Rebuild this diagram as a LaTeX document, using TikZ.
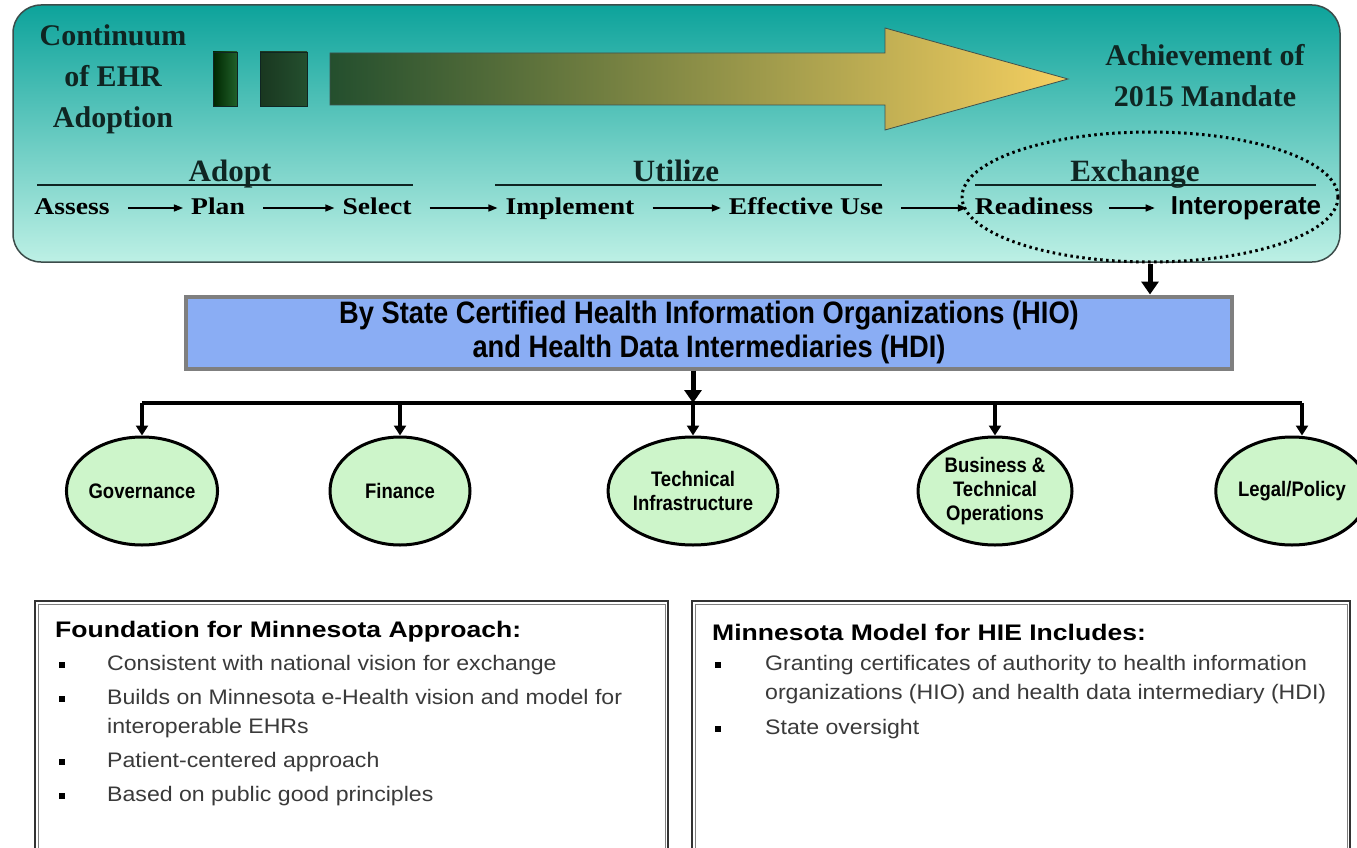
\documentclass[tikz,border=0pt]{standalone}
\usepackage{fontspec}
\setmainfont{Liberation Serif}
\newfontfamily\rowfont[FakeStretch=1.15]{Liberation Serif}
\newfontfamily\bluefont[FakeStretch=0.88]{Liberation Sans}
\newfontfamily\circfont[FakeStretch=0.88]{Liberation Sans}
\newfontfamily\headfont[FakeStretch=1.18]{Liberation Sans}
\newfontfamily\itemfont[FakeStretch=1.1]{Liberation Sans}
\newfontfamily\plainsans{Liberation Sans}
\usetikzlibrary{arrows.meta,shapes.geometric,shadows}
\definecolor{tealtop}{HTML}{0DA39B}
\definecolor{tealbot}{HTML}{BDF0E5}
\definecolor{panelborder}{HTML}{3C4C4A}
\definecolor{darktxt}{HTML}{0F2522}
\definecolor{hioblue}{HTML}{8AADF4}
\definecolor{hioborder}{HTML}{7F7F7F}
\definecolor{circgreen}{HTML}{CDF5CA}
\definecolor{itemgray}{HTML}{3A3A3A}
\definecolor{gdark}{HTML}{244F2E}
\definecolor{golive}{HTML}{A5A248}
\definecolor{gyellow}{HTML}{F5CF60}
\begin{document}
\begin{tikzpicture}[x=1pt,y=-1pt,
  panel/.style={shape=rectangle, rounded corners=28pt, top color=tealtop, bottom color=tealbot,
     draw=panelborder, line width=1.5pt, minimum width=1327pt, minimum height=257pt, inner sep=0pt},
  bigtxt/.style={text=darktxt, font=\fontsize{30}{41}\selectfont\bfseries, align=center, inner sep=0pt},
  grptxt/.style={text=darktxt, font=\fontsize{31}{36}\selectfont\bfseries, inner sep=0pt},
  grpline/.style={draw=darktxt, line width=1.3pt},
  rowtxt/.style={text=black, font=\rowfont\fontsize{24}{28}\selectfont\bfseries, inner sep=2pt,
     text height=17pt, text depth=5pt},
  rowarr/.style={draw=black, line width=1.4pt, -{Triangle[length=9pt,width=7pt]}, shorten <=16pt, shorten >=6pt},
  exell/.style={shape=ellipse, draw=black, line width=3pt, dash pattern=on 2.5pt off 3.5pt,
     minimum width=376pt, minimum height=130pt, inner sep=0pt},
  hiobox/.style={shape=rectangle, fill=hioblue, draw=hioborder, line width=4pt,
     minimum width=1046pt, minimum height=72pt, align=center,
     font=\bluefont\fontsize{31}{34}\selectfont\bfseries,
     drop shadow={shadow xshift=2pt, shadow yshift=-2pt, opacity=0.35}},
  bigarr/.style={draw=black, line width=5pt, -{Triangle[length=13pt,width=17pt]}},
  brline/.style={draw=black, line width=3.2pt},
  brarr/.style={draw=black, line width=3.2pt, -{Triangle[length=10pt,width=12pt]}},
  circ/.style={shape=ellipse, fill=circgreen, draw=black, line width=3pt,
     minimum width=140pt, minimum height=108pt, inner sep=0pt, align=center,
     font=\circfont\fontsize{21}{24}\selectfont\bfseries},
  infobox/.style={shape=rectangle, draw=black!80, line width=2pt, fill=white, inner sep=0pt},
  headtxt/.style={font=\headfont\fontsize{22.5}{26}\selectfont\bfseries, anchor=west, inner sep=0pt},
  itemtxt/.style={font=\itemfont\fontsize{21}{29}\selectfont, text=itemgray, anchor=west, align=left, inner sep=0pt},
  bullet/.style={shape=rectangle, fill=black, minimum width=5.5pt, minimum height=6.5pt, inner sep=0pt}
]
\useasboundingbox (0,0) rectangle (1357,848);
\fill[white] (0,0) rectangle (1357,848);

% top panel
\node[panel] (panel) at (676.5,133.5) {};

% progress bars and arrow
\shade[left color=black!85!green, right color=gdark!90!green, draw=darktxt, line width=0.8pt] (213,52) rectangle (237,106);
\shade[left color=gdark!70!black, right color=gdark, draw=darktxt, line width=0.8pt] (260,52) rectangle (307,106);
\shade[left color=gdark, middle color=golive, right color=gyellow, draw=darktxt!80, line width=0.8pt]
  (330,53) -- (885,53) -- (885,28) -- (1068,79) -- (885,130) -- (885,105) -- (330,105) -- cycle;

\node[bigtxt] (cont) at (113,79) {Continuum\\of EHR\\Adoption};
\node[bigtxt] (ach) at (1205,76) {Achievement of\\2015 Mandate};

% group headings
\node[grptxt, anchor=base] (adopt) at (230,181) {Adopt};
\node[grptxt, anchor=base] (utilize) at (676,181) {Utilize};
\node[grptxt, anchor=base] (exchange) at (1135,181) {Exchange};
\draw[grpline] (37,185) -- (413,185);
\draw[grpline] (495,185) -- (882,185);
\draw[grpline] (975,185) -- (1316,185);

% row
\node[rowtxt] (assess) at (72,208) {Assess};
\node[rowtxt] (plan) at (218,208) {Plan};
\node[rowtxt] (select) at (377,208) {Select};
\node[rowtxt] (implement) at (570,208) {Implement};
\node[rowtxt] (effective) at (806,208) {Effective Use};
\node[rowtxt] (readiness) at (1034,208) {Readiness};
\node[inner sep=2pt, text height=17pt, text depth=5pt, font=\plainsans\fontsize{26}{30}\selectfont\bfseries] (interop) at (1246,208) {Interoperate};
\draw[rowarr] (assess) -- (plan);
\draw[rowarr] (plan) -- (select);
\draw[rowarr] (select) -- (implement);
\draw[rowarr] (implement) -- (effective);
\draw[rowarr] (effective) -- (readiness);
\draw[rowarr, shorten <=14pt, shorten >=14pt] (readiness) -- (interop);

% exchange ellipse
\node[exell] (exell) at (1150,197) {};

% HIO box
\node[hiobox] (hio) at (709,332.5) {By State Certified Health Information Organizations (HIO)\\and Health Data Intermediaries (HDI)};

\draw[bigarr] (exell.south) -- (exell.south |- hio.north);

% circles
\node[circ] (gov) at (142,491) {Governance};
\node[circ] (fin) at (400,491) {Finance};
\node[circ] (tech) at (693,491) {Technical\\Infrastructure};
\node[circ, minimum width=154pt] (busi) at (995,491) {Business \&\\Technical\\Operations};
\node[circ] (legal) at (1292,491) {Legal/Policy};

\coordinate (bus) at (693,403);
\coordinate (legtop) at (1302,403);
\draw[bigarr] (hio.south -| tech.north) -- (bus);
\draw[brline] (gov.north |- bus) -- (legtop);
\draw[brarr] (gov.north |- bus) -- (gov.north);
\draw[brarr] (fin.north |- bus) -- (fin.north);
\draw[brarr] (bus) -- (tech.north);
\draw[brarr] (busi.north |- bus) -- (busi.north);
\draw[brarr] (legtop) -- (legtop |- legal.north);

% bottom boxes
\node[infobox, minimum width=633pt, minimum height=252pt] (lbox) at (351.5,727) {};
\draw[draw=black!50, line width=0.8pt] ([shift={(4,4)}]lbox.north west) rectangle ([shift={(-4,-4)}]lbox.south east);
\node[infobox, minimum width=658pt, minimum height=252pt] (rbox) at (1021,727) {};
\draw[draw=black!50, line width=0.8pt] ([shift={(4,4)}]rbox.north west) rectangle ([shift={(-4,-4)}]rbox.south east);

\node[headtxt] (lhead) at (55,632) {Foundation for Minnesota Approach:};
\node[bullet] (lb1) at (62,665) {};
\node[itemtxt] (li1) at (107,665) {Consistent with national vision for exchange};
\node[bullet] (lb2) at (62,699) {};
\node[itemtxt] (li2) at (107,714) {Builds on Minnesota e-Health vision and model for\\interoperable EHRs};
\node[bullet] (lb3) at (62,762) {};
\node[itemtxt] (li3) at (107,762) {Patient-centered approach};
\node[bullet] (lb4) at (62,796) {};
\node[itemtxt] (li4) at (107,796) {Based on public good principles};

\node[headtxt] (rhead) at (712,632) {Minnesota Model for HIE Includes:};
\node[bullet] (rb1) at (718,665) {};
\node[itemtxt] (ri1) at (765,680) {Granting certificates of authority to health information\\organizations (HIO) and health data intermediary (HDI)};
\node[bullet] (rb2) at (718,729) {};
\node[itemtxt] (ri2) at (765,729) {State oversight};
\end{tikzpicture}
\end{document}
